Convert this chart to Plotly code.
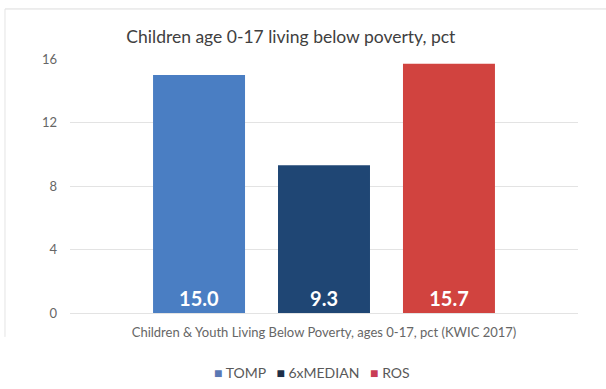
import plotly.graph_objects as go

category = ["Children & Youth Living Below Poverty, ages 0-17, pct (KWIC 2017)"]
series = ["TOMP", "6xMEDIAN", "ROS"]
values = [15.0, 9.3, 15.7]
colors = ["#4a7ec3", "#1f4674", "#d1433f"]
legend_colors = ["#5a78b4", "#1e2f48", "#c83d55"]

fig = go.Figure()
for name, val, col in zip(series, values, colors):
    fig.add_trace(
        go.Bar(
            x=category,
            y=[val],
            name=name,
            marker=dict(color=col, line=dict(width=0)),
            text=[f"{val:.1f}"],
            textposition="inside",
            insidetextanchor="start",
            textfont=dict(color="white", size=20, family="Lato", weight="bold"),
            showlegend=False,
        )
    )

# Excel-like legend: small square right next to each name
legend_text = "&nbsp;&nbsp;&nbsp;".join(
    f"<span style='color:{c}'>■</span> {n}" for n, c in zip(series, legend_colors)
)
fig.add_annotation(
    text=legend_text,
    xref="paper", yref="paper",
    x=(312 - 70) / 508, y=(313 - 372) / 254,
    xanchor="center", yanchor="middle",
    showarrow=False,
    font=dict(size=14, color="#595959"),
)

fig.update_layout(
    width=606,
    height=389,
    barmode="group",
    bargap=0.262,
    bargroupgap=0.264,
    font=dict(family="Lato", color="#595959"),
    title=dict(
        text="Children age 0-17 living below poverty, pct",
        x=0.48,
        xanchor="center",
        y=1 - 37 / 389,
        yanchor="middle",
        font=dict(size=17.5, color="#404040"),
    ),
    margin=dict(l=70, r=28, t=59, b=76),
    plot_bgcolor="white",
    paper_bgcolor="white",
)
fig.update_yaxes(
    range=[0, 16],
    dtick=4,
    showgrid=True,
    gridcolor="#e3e3e3",
    zeroline=False,
    tickfont=dict(size=13, color="#666666"),
    ticklabelstandoff=12,
)
fig.update_xaxes(
    tickfont=dict(size=13, color="#666666"),
    showline=True,
    linecolor="#e3e3e3",
    ticks="",
    ticklabelstandoff=7,
)
# faint outer frame of the original chart box
fig.add_shape(type="line", xref="paper", yref="paper",
              x0=-0.128, x1=1.06, y0=1.197, y1=1.197,
              line=dict(color="#dcdcdc", width=1))
fig.add_shape(type="line", xref="paper", yref="paper",
              x0=-0.128, x1=-0.128, y0=1.197, y1=-0.094,
              line=dict(color="#e4e4e4", width=1))

fig.write_html(
    "out.html",
    config={"displayModeBar": False},
    post_script="document.body.style.margin='0';",
)
